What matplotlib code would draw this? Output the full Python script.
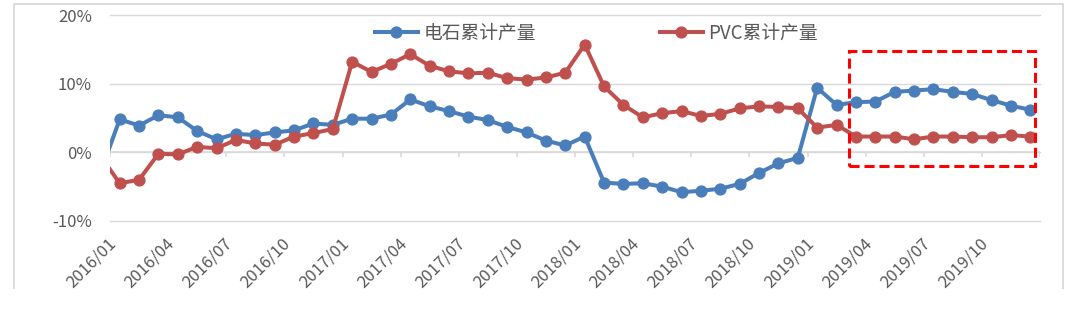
import matplotlib
matplotlib.use("Agg")
import matplotlib.pyplot as plt
from matplotlib.patches import Rectangle
from matplotlib.lines import Line2D
from matplotlib.ticker import PercentFormatter, FixedLocator

plt.rcParams['font.family'] = ['Noto Sans CJK SC', 'DejaVu Sans']
plt.rcParams['axes.unicode_minus'] = False

# Monthly cumulative output growth (%), Dec 2015 through Dec 2019
months = ["2015/12"] + [f"{y}/{m:02d}" for y in range(2016, 2020) for m in range(1, 13)]
carbide = [-3.0,
           4.8, 3.9, 5.4, 5.1, 3.1, 1.9, 2.7, 2.5, 2.9, 3.2, 4.2, 4.0,
           4.9, 4.9, 5.5, 7.7, 6.7, 6.0, 5.2, 4.7, 3.7, 2.9, 1.7, 1.0,
           2.3, -4.4, -4.6, -4.5, -5.0, -5.8, -5.6, -5.3, -4.6, -3.0, -1.6, -0.8,
           9.4, 6.9, 7.3, 7.4, 8.8, 9.0, 9.2, 8.8, 8.5, 7.6, 6.8, 6.2]
pvc = [-0.5,
       -4.5, -4.0, -0.2, -0.3, 0.8, 0.6, 1.8, 1.3, 1.1, 2.3, 2.8, 3.4,
       13.2, 11.7, 12.9, 14.3, 12.6, 11.8, 11.5, 11.6, 10.8, 10.6, 10.9, 11.6,
       15.7, 9.6, 6.9, 5.1, 5.7, 6.0, 5.3, 5.6, 6.4, 6.7, 6.6, 6.4,
       3.6, 4.0, 2.3, 2.3, 2.3, 1.9, 2.3, 2.3, 2.2, 2.2, 2.5, 2.3]
series_names = ["电石累计产量", "PVC累计产量"]
y_ticks = [-10, 0, 10, 20]

BLUE = "#4A7EBB"
RED = "#C0504D"
GRID = "#D9D9D9"
TEXT = "#595959"

x = list(range(-1, len(months) - 1))   # 2016/01 sits at x = 0

fig = plt.figure(figsize=(10.8, 3.29), dpi=100)
ax = fig.add_axes([110 / 1080, 1 - 221 / 329, 930 / 1080, 206 / 329])

ax.plot(x, carbide, color=BLUE, lw=2.9, marker='o', ms=7.8, label=series_names[0],
        solid_joinstyle='round', zorder=3)
ax.plot(x, pvc, color=RED, lw=2.9, marker='o', ms=7.8, label=series_names[1],
        solid_joinstyle='round', zorder=3)

ax.set_xlim(-0.5, len(months) - 1.5)
ax.set_ylim(-10, 20)

# y axis: percent labels, light horizontal gridlines
ax.yaxis.set_major_locator(FixedLocator(y_ticks))
ax.yaxis.set_major_formatter(PercentFormatter(decimals=0))
ax.grid(axis='y', color=GRID, lw=1.0, zorder=0)
for gl in ax.get_ygridlines():
    gl.set_clip_on(False)
ax.tick_params(axis='y', length=0, pad=13, labelsize=12, labelcolor=TEXT)

# x axis: quarterly labels at category centres
label_pos = [i for i in x if i >= 0 and i % 3 == 0]
ax.set_xticks(label_pos)
ax.set_xticklabels([months[i + 1] for i in label_pos], rotation=45, ha='right',
                   va='top', fontsize=12, color=TEXT)
ax.tick_params(axis='x', length=0, pad=10)

for s in ax.spines.values():
    s.set_visible(False)

# zero line with tick marks on category boundaries
ax.axhline(0, color=GRID, lw=1.2, zorder=1)
bounds = [b - 0.5 for b in range(0, len(months), 3)]
ax.vlines(bounds, -0.75, 0, color=GRID, lw=1.2, zorder=1)

# highlight of 2019 Q2-Q4
ax.add_patch(Rectangle((37.66, -2.04), 47.23 - 37.66, 14.7 + 2.04, fill=False,
                       edgecolor='#FF0000', lw=2.2, linestyle=(0, (3.3, 1.6)),
                       zorder=4))

ax.legend(loc='center', bbox_to_anchor=(0.523, 0.9126), ncol=2, frameon=False,
          fontsize=13.5, labelcolor=TEXT, handlelength=2.3, handletextpad=0.3,
          columnspacing=6.6, borderaxespad=0, borderpad=0)

# outer frame (open at the bottom)
fx0, fx1 = 14 / 1080, 1063 / 1080
fy0, fy1 = 1 - 288 / 329, 1 - 4 / 329
fig.add_artist(Line2D([fx0, fx0, fx1, fx1], [fy0, fy1, fy1, fy0],
                      transform=fig.transFigure, color=GRID, lw=1.3))

fig.savefig("out.png", dpi=100)
